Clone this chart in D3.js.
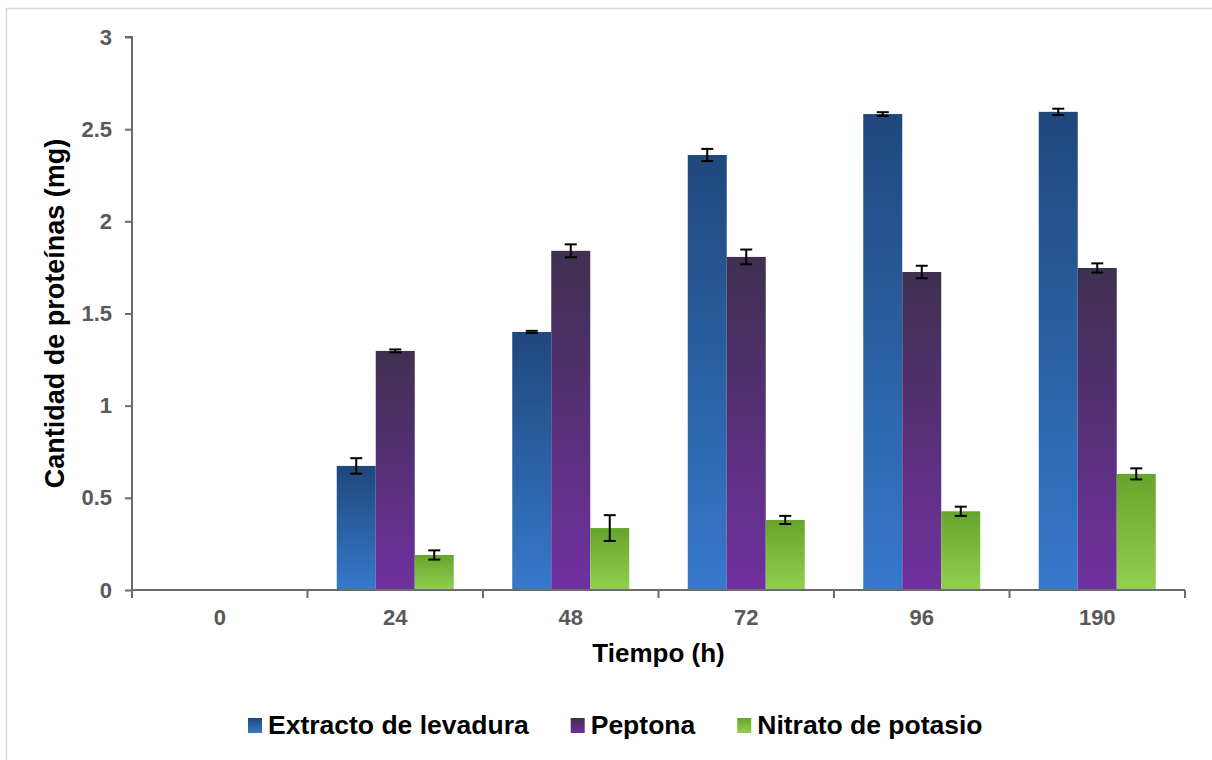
<!DOCTYPE html>
<html><head><meta charset="utf-8">
<script src="https://cdn.jsdelivr.net/npm/d3@7"></script>
<style>
html,body{margin:0;padding:0;background:#fff;}
text{font-family:Arial,"Liberation Sans",sans-serif;font-weight:bold;}
</style></head>
<body>
<svg id="chart" width="1212" height="760"></svg>
<script>
const categories = ["0","24","48","72","96","190"];
const seriesNames = ["Extracto de levadura","Peptona","Nitrato de potasio"];
const extracto = [0, 0.673, 1.40, 2.36, 2.582, 2.594];
const peptona  = [0, 1.297, 1.84, 1.807, 1.725, 1.747];
const nitrato  = [0, 0.19, 0.336, 0.38, 0.427, 0.63];
const extractoErr = [0, 0.042, 0.006, 0.033, 0.01, 0.017];
const peptonaErr  = [0, 0.008, 0.035, 0.04, 0.034, 0.025];
const nitratoErr  = [0, 0.025, 0.07, 0.022, 0.025, 0.03];
const yTicks = [0, 0.5, 1, 1.5, 2, 2.5, 3];
const yTickLabels = ["0","0.5","1","1.5","2","2.5","3"];
const xTitle = "Tiempo (h)";
const yTitle = "Cantidad de proteínas (mg)";

(function(){
const values = [extracto, peptona, nitrato];
const errors = [extractoErr, peptonaErr, nitratoErr];
const gradStops = [["#1f487c","#3679cb"],["#3f3050","#7030a0"],["#66a42c","#92d050"]];

const svg = d3.select("#chart");
svg.append("rect").attr("x",6.5).attr("y",8.5).attr("width",1230).attr("height",800)
  .attr("fill","#fff").attr("stroke","#d9d9d9").attr("stroke-width",1.5);

const defs = svg.append("defs");
gradStops.forEach((g,i)=>{
  const lg = defs.append("linearGradient").attr("id","g"+i).attr("x1",0).attr("y1",0).attr("x2",0).attr("y2",1);
  lg.append("stop").attr("offset","0%").attr("stop-color",g[0]);
  lg.append("stop").attr("offset","100%").attr("stop-color",g[1]);
});

const pL=132, pR=1185, pT=37, pB=590;
const x0 = d3.scaleBand().domain(categories).range([pL,pR]).padding(0);
const x1 = d3.scaleBand().domain(seriesNames).range([0,x0.bandwidth()]).paddingInner(0).paddingOuter(0.75);
const y = d3.scaleLinear().domain([0,3]).range([pB,pT]);

const data = [];
categories.forEach((c,ci)=>{
  seriesNames.forEach((s,si)=>{
    data.push({c, s, si, v: values[si][ci], e: errors[si][ci]});
  });
});

const bars = data.filter(d=>d.v>0);
svg.append("g").selectAll("rect").data(bars).join("rect")
  .attr("x",d=>x0(d.c)+x1(d.s))
  .attr("y",d=>y(d.v))
  .attr("width",x1.bandwidth())
  .attr("height",d=>y(0)-y(d.v))
  .attr("fill",d=>"url(#g"+d.si+")");

const eg = svg.append("g").attr("stroke","#000").attr("stroke-width",2);
bars.forEach(d=>{
  const cx = x0(d.c)+x1(d.s)+x1.bandwidth()/2;
  const y1 = y(d.v+d.e), y2 = y(d.v-d.e);
  eg.append("line").attr("x1",cx).attr("x2",cx).attr("y1",y1).attr("y2",y2);
  eg.append("line").attr("x1",cx-6).attr("x2",cx+6).attr("y1",y1).attr("y2",y1);
  eg.append("line").attr("x1",cx-6).attr("x2",cx+6).attr("y1",y2).attr("y2",y2);
});

const yAxis = d3.axisLeft(y).tickValues(yTicks).tickFormat((d,i)=>yTickLabels[i]).tickSize(7).tickPadding(13);
const yg = svg.append("g").attr("transform",`translate(${pL},0)`).call(yAxis);
yg.select(".domain").attr("stroke","#6b6b6b").attr("stroke-width",2).attr("d",`M-7,${pT}H0V${pB}`);
yg.selectAll(".tick line").attr("stroke","#6b6b6b").attr("stroke-width",2);
yg.selectAll(".tick text").attr("fill","#595959").style("font-size","22px").style("font-family","Arial, 'Liberation Sans', sans-serif").style("font-weight","bold");

const xAxis = d3.axisBottom(x0).tickSize(0).tickPadding(22);
const xg = svg.append("g").attr("transform",`translate(0,${pB})`).call(xAxis);
xg.select(".domain").attr("stroke","#6b6b6b").attr("stroke-width",2).attr("d",`M${pL},0H${pR}`);
xg.selectAll(".tick text").attr("fill","#595959").style("font-size","22px").style("font-family","Arial, 'Liberation Sans', sans-serif").style("font-weight","bold").attr("dy","0.71em").attr("y",19);
const boundsX = categories.map(c=>x0(c)).concat([pR]);
xg.append("g").selectAll("line").data(boundsX).join("line")
  .attr("x1",d=>d).attr("x2",d=>d).attr("y1",0).attr("y2",8)
  .attr("stroke","#6b6b6b").attr("stroke-width",2);

svg.append("text").attr("x",(pL+pR)/2).attr("y",662).attr("text-anchor","middle")
  .style("font-size","26px").attr("fill","#000").text(xTitle);
svg.append("text").attr("transform",`translate(64,${(pT+pB)/2}) rotate(-90)`).attr("text-anchor","middle")
  .style("font-size","27px").attr("fill","#000").text(yTitle);

let lx = 248;
seriesNames.forEach((s,i)=>{
  svg.append("rect").attr("x",lx).attr("y",718).attr("width",14).attr("height",15).attr("fill","url(#g"+i+")");
  const t = svg.append("text").attr("x",lx+20).attr("y",734).style("font-size","26.5px").attr("fill","#000").text(s);
  lx = lx + 20 + t.node().getComputedTextLength() + 42;
});
})();
</script>
</body></html>
